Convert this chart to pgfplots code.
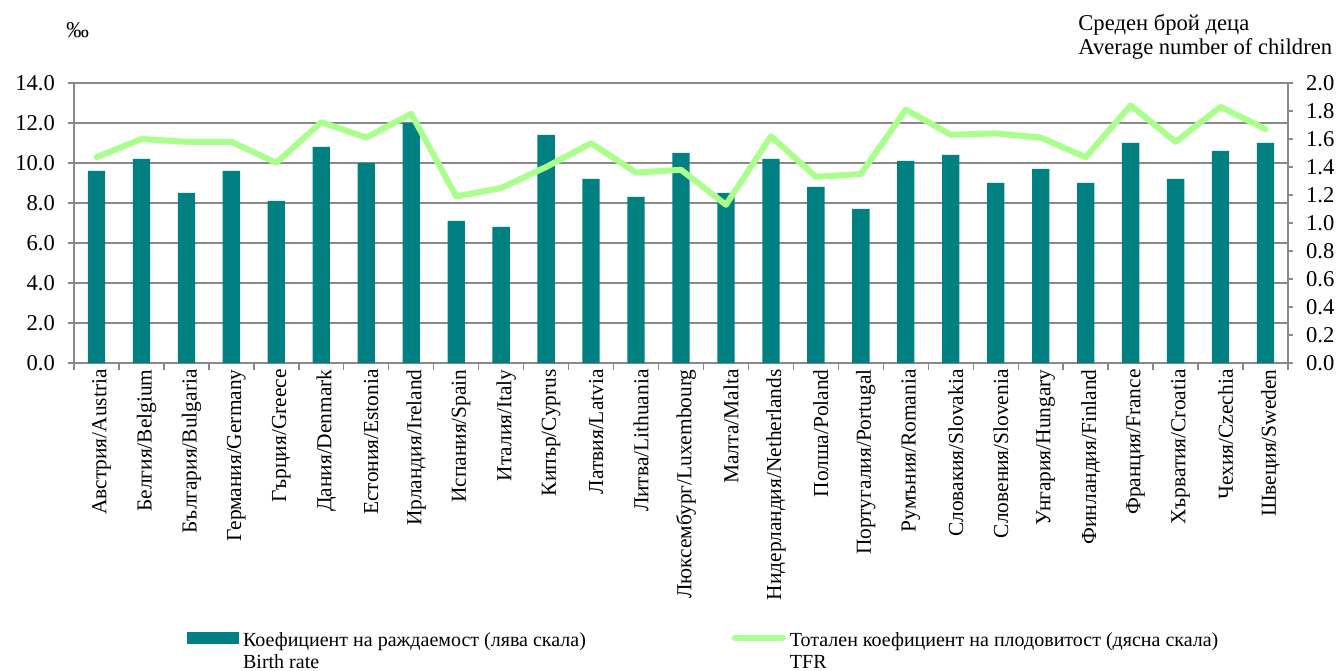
\documentclass[border=0pt]{standalone}
\usepackage{fontspec}
\setmainfont{Liberation Serif}
\usepackage{pgfplots}
\pgfplotsset{compat=1.18}
\definecolor{barc}{HTML}{008080}
\definecolor{linec}{HTML}{AAFF8C}
\definecolor{gridc}{HTML}{898989}
\begin{document}
\begin{tikzpicture}[x=0.5pt,y=0.5pt]
\useasboundingbox (0,0) rectangle (1339,670);
\begin{axis}[
  at={(37pt,153.5pt)}, anchor=south west,
  scale only axis, width=607pt, height=140pt,
  xmin=-0.5, xmax=26.5, ymin=0, ymax=14,
  ytick={0,2,4,6,8,10,12,14},
  yticklabels={0.0,2.0,4.0,6.0,8.0,10.0,12.0,14.0},
  xtick={0,...,26},
  xticklabels={Австрия/Austria, Белгия/Belgium, България/Bulgaria, Германия/Germany, Гърция/Greece, Дания/Denmark, Естония/Estonia, Ирландия/Ireland, Испания/Spain, Италия/Italy, Кипър/Cyprus, Латвия/Latvia, Литва/Lithuania, Люксембург/Luxembourg, Малта/Malta, Нидерландия/Netherlands, Полша/Poland, Португалия/Portugal, Румъния/Romania, Словакия/Slovakia, Словения/Slovenia, Унгария/Hungary, Финландия/Finland, Франция/France, Хърватия/Croatia, Чехия/Czechia, Швеция/Sweden},
  xticklabel style={rotate=90, anchor=east, font=\fontsize{10.7}{12}\selectfont, inner sep=0pt, yshift=-2.5pt},
  major x tick style={draw=none},
  minor xtick={-0.5,0.5,...,26.5},
  minor tick length=3.5pt, major tick length=3pt,
  tick align=outside, xtick pos=bottom, ytick pos=left,
  ymajorgrids, grid style={gridc, line width=0.7pt},
  axis line style={gridc, line width=0.7pt},
  tick style={gridc, line width=0.7pt},
  yticklabel style={font=\fontsize{11.3}{13}\selectfont, xshift=-3pt},
]
\addplot[ybar, bar width=0.385, fill=barc, draw=none] coordinates {
(0,9.6) (1,10.2) (2,8.5) (3,9.6) (4,8.1) (5,10.8) (6,10.0) (7,12.0) (8,7.1) (9,6.8) (10,11.4) (11,9.2) (12,8.3) (13,10.5) (14,8.5) (15,10.2) (16,8.8) (17,7.7) (18,10.1) (19,10.4) (20,9.0) (21,9.7) (22,9.0) (23,11.0) (24,9.2) (25,10.6) (26,11.0)};
\end{axis}
\begin{axis}[
  at={(37pt,153.5pt)}, anchor=south west,
  scale only axis, width=607pt, height=140pt,
  xmin=-0.5, xmax=26.5, ymin=0, ymax=2,
  axis x line=none, axis y line*=right,
  ytick={0,0.2,0.4,0.6,0.8,1.0,1.2,1.4,1.6,1.8,2.0},
  yticklabels={0.0,0.2,0.4,0.6,0.8,1.0,1.2,1.4,1.6,1.8,2.0},
  tick align=outside, major tick length=2.5pt,
  axis line style={gridc, line width=0.7pt},
  tick style={gridc, line width=0.7pt},
  yticklabel style={font=\fontsize{11.3}{13}\selectfont, xshift=3pt},
  legend style={at={(axis description cs:0.093,-0.946)}, anchor=north west, draw=none, fill=none, inner sep=0pt,
    legend columns=2, font=\fontsize{10}{11}\selectfont, cells={align=left},
    /tikz/every even column/.append style={column sep=71pt}},
]
\addlegendimage{legend image code/.code={\fill[barc] (0pt,4.25pt) rectangle (25.5pt,9.75pt);}}
\addlegendentry{Коефициент на раждаемост (лява скала)\\Birth rate}
\addplot[linec, line width=3pt, line join=round, line cap=round,
  legend image code/.code={\draw[linec, line width=3pt, line cap=round] (1.5pt,7pt) -- (25.5pt,7pt);}] coordinates {
(0,1.47) (1,1.60) (2,1.58) (3,1.58) (4,1.43) (5,1.72) (6,1.61) (7,1.78) (8,1.19) (9,1.25) (10,1.40) (11,1.57) (12,1.36) (13,1.38) (14,1.13) (15,1.62) (16,1.33) (17,1.35) (18,1.81) (19,1.63) (20,1.64) (21,1.61) (22,1.47) (23,1.84) (24,1.58) (25,1.83) (26,1.67)};
\addlegendentry{Тотален коефициент на плодовитост (дясна скала)\\TFR}
\end{axis}
\node[anchor=base west, inner sep=0pt, font=\fontsize{11.3}{13}\selectfont] at (66,632) {‰};
\node[anchor=base west, inner sep=0pt, font=\fontsize{11.3}{13}\selectfont] at (1078,639) {Среден брой деца};
\node[anchor=base west, inner sep=0pt, font=\fontsize{11.3}{13}\selectfont] at (1078,615) {Average number of children};
\end{tikzpicture}
\end{document}
